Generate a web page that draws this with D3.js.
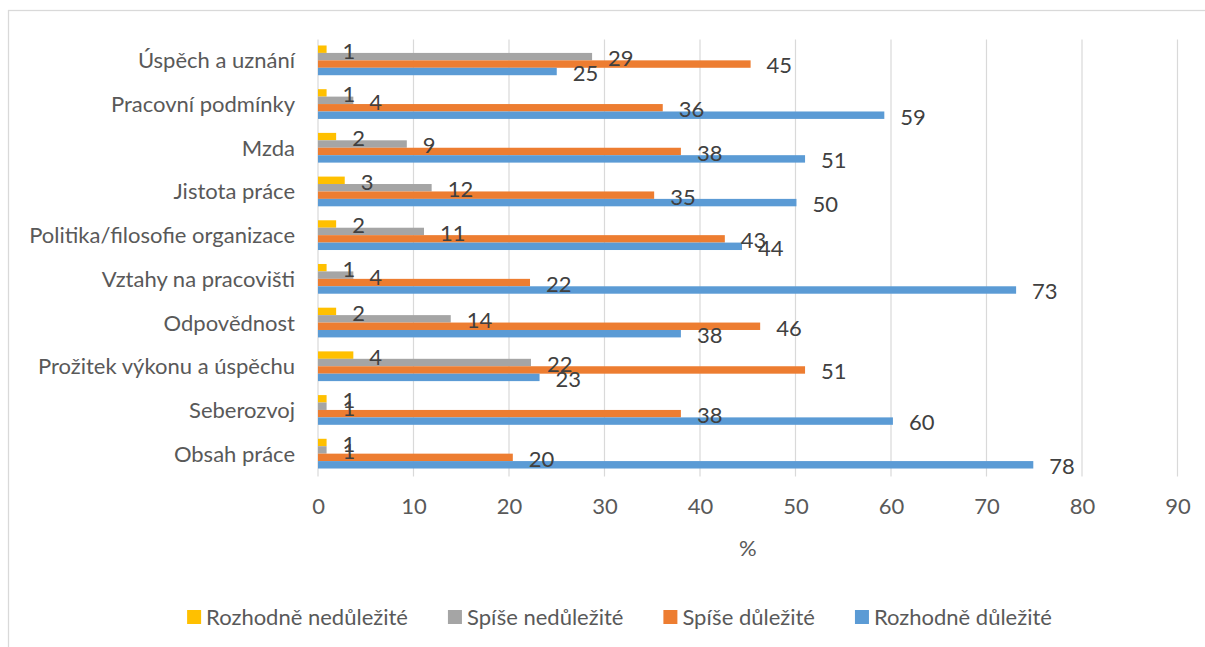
<!DOCTYPE html>
<html>
<head>
<meta charset="utf-8">
<script src="https://cdn.jsdelivr.net/npm/d3@7"></script>
<style>
  html, body { margin: 0; padding: 0; background: #fff; overflow: hidden; }
  svg { display: block; }
</style>
</head>
<body>
<div id="bar-chart"></div>
<script>
// categories, top to bottom as drawn
const categories = [
  'Úspěch a uznání',
  'Pracovní podmínky',
  'Mzda',
  'Jistota práce',
  'Politika/filosofie organizace',
  'Vztahy na pracovišti',
  'Odpovědnost',
  'Prožitek výkonu a úspěchu',
  'Seberozvoj',
  'Obsah práce'
];

// series names (legend order)
const seriesNames = ['Rozhodně nedůležité', 'Spíše nedůležité', 'Spíše důležité', 'Rozhodně důležité'];

// bar lengths in %, one per category
const rozhodneNedulezite = [0.9, 0.9, 1.9, 2.8, 1.9, 0.9, 1.9, 3.7, 0.9, 0.9];
const spiseNedulezite    = [28.7, 3.7, 9.3, 11.9, 11.1, 3.7, 13.9, 22.3, 0.9, 0.9];
const spiseDulezite      = [45.3, 36.1, 38.0, 35.2, 42.6, 22.2, 46.3, 51.0, 38.0, 20.4];
const rozhodneDulezite   = [25.0, 59.3, 51.0, 50.1, 44.4, 73.1, 38.0, 23.2, 60.2, 74.9];

// data labels as printed on the chart
const labelsRozhodneNedulezite = [1, 1, 2, 3, 2, 1, 2, 4, 1, 1];
const labelsSpiseNedulezite    = [29, 4, 9, 12, 11, 4, 14, 22, 1, 1];
const labelsSpiseDulezite      = [45, 36, 38, 35, 43, 22, 46, 51, 38, 20];
const labelsRozhodneDulezite   = [25, 59, 51, 50, 44, 73, 38, 23, 60, 78];

const xTicks = [0, 10, 20, 30, 40, 50, 60, 70, 80, 90];
const xTitle = '%';

/**
 * Draw the clustered bar chart
 */
function createBarChart() {
  const WIDTH = 1205;
  const HEIGHT = 647;
  const FONT = 'Lato, "Open Sans", sans-serif';
  const FONT_SIZE = 22;
  const COLORS = ['#FFC000', '#A5A5A5', '#ED7D31', '#5B9BD5'];

  const svg = d3.select('#bar-chart').append('svg')
    .attr('width', WIDTH)
    .attr('height', HEIGHT);

  // chart frame
  svg.append('rect')
    .attr('x', 8.5).attr('y', 10.5)
    .attr('width', WIDTH + 10).attr('height', HEIGHT + 10)
    .attr('fill', 'none')
    .attr('stroke', '#d9d9d9')
    .attr('stroke-width', 1.25);

  const series = [rozhodneNedulezite, spiseNedulezite, spiseDulezite, rozhodneDulezite];
  const labels = [labelsRozhodneNedulezite, labelsSpiseNedulezite, labelsSpiseDulezite, labelsRozhodneDulezite];

  // scales
  const x = d3.scaleLinear()
    .domain([0, 90])
    .range([318, 1177.5]);
  const y = d3.scaleBand()
    .domain(categories)
    .range([39.5, 476.5]);
  const ySub = d3.scaleBand()
    .domain(d3.range(series.length))
    .range([-1, y.bandwidth() - 1])
    .paddingOuter(0.94);

  const g = svg.append('g');

  // vertical gridlines
  g.append('g').selectAll('line')
    .data(xTicks)
    .join('line')
      .attr('x1', d => x(d)).attr('x2', d => x(d))
      .attr('y1', y.range()[0]).attr('y2', y.range()[1])
      .attr('stroke', '#d9d9d9')
      .attr('stroke-width', 1.2);

  // x axis tick labels
  const xAxis = d3.axisBottom(x)
    .tickValues(xTicks)
    .tickSize(0)
    .tickPadding(0);
  const xAxisG = g.append('g')
    .attr('transform', 'translate(0,' + 498 + ')')
    .call(xAxis);
  xAxisG.select('.domain').remove();
  xAxisG.selectAll('text')
    .attr('font-family', FONT)
    .attr('font-size', FONT_SIZE)
    .attr('fill', '#595959');

  // x axis title
  g.append('text')
    .attr('x', (x.range()[0] + x.range()[1]) / 2)
    .attr('y', 556)
    .attr('text-anchor', 'middle')
    .attr('font-family', FONT)
    .attr('font-size', FONT_SIZE)
    .attr('fill', '#595959')
    .text(xTitle);

  // category labels
  const yAxis = d3.axisLeft(y).tickSize(0).tickPadding(23);
  const yAxisG = g.append('g')
    .attr('transform', 'translate(' + x(0) + ',0)')
    .call(yAxis);
  yAxisG.select('.domain').remove();
  yAxisG.selectAll('text')
    .attr('font-family', FONT)
    .attr('font-size', FONT_SIZE)
    .attr('fill', '#595959');

  // bars first
  const barsG = g.append('g');
  series.forEach((vals, si) => {
    barsG.append('g').selectAll('rect')
      .data(vals)
      .join('rect')
        .attr('x', x(0))
        .attr('y', (_, i) => y(categories[i]) + ySub(si))
        .attr('width', d => x(d) - x(0))
        .attr('height', ySub.bandwidth())
        .attr('fill', COLORS[si]);
  });

  // then data labels on top, just past the bar end
  const labelsG = g.append('g');
  series.forEach((vals, si) => {
    labelsG.append('g').selectAll('text')
      .data(vals)
      .join('text')
        .attr('x', d => x(d) + 16)
        .attr('y', (_, i) => y(categories[i]) + ySub(si) + ySub.bandwidth() / 2 + 9.4)
        .attr('font-family', FONT)
        .attr('font-size', FONT_SIZE)
        .attr('fill', '#404040')
        .text((_, i) => labels[si][i]);
  });

  // legend, centred under the chart
  const legend = svg.append('g');
  const items = legend.selectAll('g')
    .data(seriesNames)
    .join('g');
  items.append('rect')
    .attr('y', 610)
    .attr('width', 14).attr('height', 14)
    .attr('fill', (_, i) => COLORS[i]);
  items.append('text')
    .attr('x', 19)
    .attr('y', 625)
    .attr('font-family', FONT)
    .attr('font-size', FONT_SIZE)
    .attr('fill', '#595959')
    .text(d => d);

  let offset = 0;
  const starts = [];
  items.each(function(_, i) {
    const w = 19 + this.querySelector('text').getComputedTextLength();
    starts.push(offset);
    offset += w + (i < seriesNames.length - 1 ? 40 : 0);
  });
  const start = 619.5 - offset / 2;
  items.attr('transform', (_, i) => 'translate(' + (start + starts[i]) + ',0)');
}

/**
 * Entry point
 */
(function main() {
  createBarChart();
})();
</script>
</body>
</html>
